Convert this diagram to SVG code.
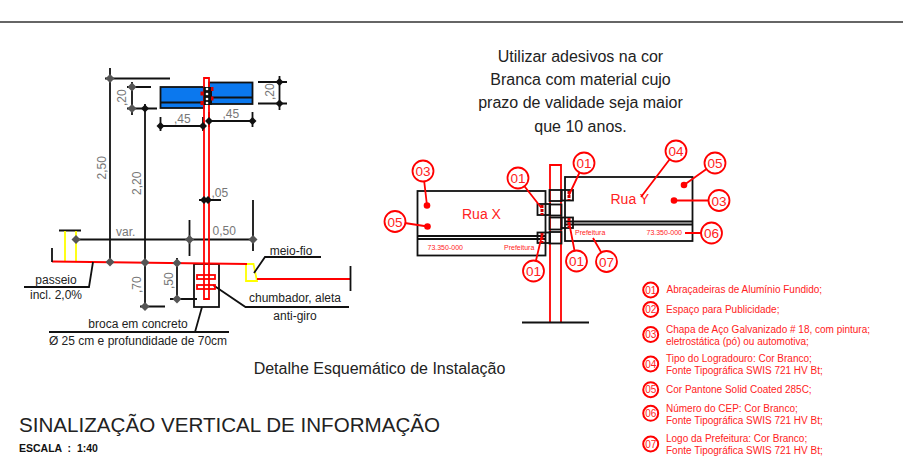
<svg xmlns="http://www.w3.org/2000/svg" width="903" height="459" viewBox="0 0 903 459">
<style>
text{font-family:"Liberation Sans",Arial,sans-serif}
.k{fill:none;stroke:#111;stroke-width:1.8}
.r{fill:none;stroke:#f00;stroke-width:1.8}
.y{fill:none;stroke:#ff0;stroke-width:1.800}
.d{fill:#777;font-size:12px}
.t{fill:#222;font-size:12px;text-anchor:middle}
.m{fill:#222;font-size:16px;text-anchor:middle}
.rt{fill:#f22;font-size:10px}
.s{fill:#f22;font-size:7px}
.nb circle{fill:#fff;stroke:#f00;stroke-width:1.8}
.nb text{fill:#f22;font-size:13.500px;text-anchor:middle}
.lg circle{fill:#fff;stroke:#f00;stroke-width:2}
.lg text.n{fill:#f22;font-size:10px;text-anchor:middle}
</style>
<defs>
<path id="dk" d="M-4 0L0-4L4 0L0 4Z" fill="#111"/>
<path id="dg" d="M-4.500 0L0-4.500L4.500 0L0 4.500Z" fill="#555"/>
</defs>
<rect width="903" height="459" fill="#fff"/>
<path d="M0 22H903" stroke="#333" stroke-width="1.500"/>

<g id="elevacao">
<rect x="160.500" y="87" width="43.500" height="21" fill="#0b78ee" stroke="#111" stroke-width="1.800"/>
<rect x="209" y="82.500" width="43.500" height="21.500" fill="#0b78ee" stroke="#111" stroke-width="1.800"/>
<path class="k" d="M160.500 102.500H204M209 97.500H252.500"/>
<path d="M110 68V262M105 78.500H170M132 82V115M127 87H151M127 108.500H157M145 104V307M140 306.500H165M177 258V299M170 299H197" class="k"/>
<path d="M160.500 117V131M160.500 126H203M203 117V131M209 121H252.500M252.500 112V127M209 112V127M258 82H287M258 103.500H287M279.500 76V110M199 200H221M253 200V251M189.500 220V256M75 239.500H253M59 230.500H81" class="k"/>
<path class="y" d="M65 231V261M76 231V261M246 264H253.500L257 281H246Z"/>
<rect x="194" y="264" width="25" height="43" class="k"/>
<path class="r" d="M204 78H209V299H204Z"/>
<path d="M52 261.500L247 264" stroke="#f00" stroke-width="1.800"/>
<path d="M257 279H350" stroke="#f00" stroke-width="1.800"/>
<path class="k" d="M52 248V262M350.500 266V291M93 262L89 287H24M254 273L265 257H321M202 307L195 332H229M49 332H195M213 285L245.500 307H349"/>
<rect x="197" y="275" width="18" height="4" class="r"/>
<rect x="197" y="285" width="18" height="4" class="r"/>
<rect x="203.500" y="87" width="8.500" height="18" fill="#111"/>
<g fill="#fff"><circle cx="207" cy="89" r="1.300"/><circle cx="207" cy="94" r="1.300"/><circle cx="207" cy="99" r="1.300"/><circle cx="207" cy="103" r="1.300"/></g>
<g fill="#d00"><rect x="200.500" y="91.500" width="3" height="4"/><rect x="200.500" y="101" width="3" height="4"/><rect x="211" y="87" width="2.500" height="4"/><rect x="211" y="96.500" width="2.500" height="4"/></g>
<use href="#dg" x="110" y="78.500"/><use href="#dg" x="132" y="87"/><use href="#dg" x="132" y="108.500"/><use href="#dk" x="145" y="108.500"/>
<use href="#dk" x="160.500" y="126"/><use href="#dk" x="203" y="126"/><use href="#dk" x="209" y="121"/><use href="#dk" x="252.500" y="121"/>
<use href="#dk" x="279.500" y="82"/><use href="#dk" x="279.500" y="103.500"/><use href="#dk" x="204" y="200"/><use href="#dk" x="208" y="200"/>
<use href="#dg" x="76" y="239.500"/><use href="#dg" x="189.500" y="239.500"/><use href="#dg" x="253" y="239.500"/>
<use href="#dg" x="110" y="262"/><use href="#dg" x="145" y="262.500"/><use href="#dg" x="177" y="263"/><use href="#dg" x="145" y="306.500"/><use href="#dg" x="177" y="299"/>
<text class="d" transform="translate(106 179.500) rotate(-90)">2,50</text>
<text class="d" transform="translate(141 195) rotate(-90)">2,20</text>
<text class="d" transform="translate(126 106) rotate(-90)">,20</text>
<text class="d" transform="translate(274 100) rotate(-90)">,20</text>
<text class="d" transform="translate(141 293) rotate(-90)">,70</text>
<text class="d" transform="translate(173 289) rotate(-90)">,50</text>
<text class="d" x="174" y="123">,45</text>
<text class="d" x="222.500" y="118">,45</text>
<text class="d" x="211.500" y="197">,05</text>
<text class="d" x="116" y="236">var.</text>
<text class="d" x="212.500" y="235">0,50</text>
<text class="t" x="56" y="284">passeio</text>
<text class="t" x="56" y="299">incl. 2,0%</text>
<text class="t" x="291" y="255">meio-fio</text>
<text class="t" x="295" y="302">chumbador, aleta</text>
<text class="t" x="295" y="320">anti-giro</text>
<text class="t" x="138" y="328">broca em concreto</text>
<text class="t" x="138" y="345">Ø 25 cm e profundidade de 70cm</text>
</g>

<g id="nota">
<text class="m" x="580.500" y="62">Utilizar adesivos na cor</text>
<text class="m" x="580.500" y="85">Branca com material cujo</text>
<text class="m" x="580.500" y="108">prazo de validade seja maior</text>
<text class="m" x="580.500" y="132">que 10 anos.</text>
</g>

<g id="poste">
<path d="M550 322V165H561V322" class="r"/>
<path d="M522 322.500H589" stroke="#111" stroke-width="1.800"/>
</g>
<g id="placa-x">
<rect x="417.500" y="191" width="128" height="64.500" class="k" style="fill:#fff"/>
<path class="k" d="M417.500 236H545.500M417.500 239H545.500"/>
<text x="462" y="219" fill="#f22" font-size="14">Rua X</text>
<text class="s" x="427.500" y="250">73.350-000</text>
<text class="s" x="504" y="250">Prefeitura</text>
</g>
<g id="placa-y">
<rect x="565" y="177" width="127.500" height="64" class="k" style="fill:#fff"/>
<path class="k" d="M565 221.500H692.500M565 224.500H692.500"/>
<text x="610.500" y="204" fill="#f22" font-size="14">Rua Y</text>
<text class="s" x="646.500" y="235">73.350-000</text>
<text class="s" x="575" y="235">Prefeitura</text>
</g>
<g id="abracadeiras">
<g class="k"><rect x="549.500" y="190" width="12" height="11"/><rect x="549.500" y="204.500" width="12" height="11"/><rect x="549.500" y="217.500" width="12" height="12"/><rect x="549.500" y="232" width="12" height="11.500"/>
<rect x="537.500" y="204" width="12.500" height="11"/><rect x="537.500" y="232.500" width="12.500" height="10.500"/><rect x="561.500" y="190" width="11.500" height="10.500"/><rect x="561.500" y="217.500" width="11.500" height="10.500"/></g>
<path d="M542 205V215M542 233V243M569 191V200M569 218V228" stroke="#c00" stroke-width="3" stroke-dasharray="3 1"/>
</g>

<g id="chamadas" class="nb">
<path class="r" d="M423 171L427 205.500M395 221.500L427.500 226.500M518 178L541.500 208M533.500 271L542 235M584 163L569 195M676 151L641 197M715 163L684 185M719 200.500H674M711.500 233H685M606.500 261.500L593 238M576.500 261L569 222"/>
<g><circle cx="427" cy="205.500" r="3.300" style="fill:#f00;stroke:none"/><circle cx="427.500" cy="226.500" r="3.300" style="fill:#f00;stroke:none"/><circle cx="684" cy="185" r="3.300" style="fill:#f00;stroke:none"/><circle cx="674" cy="200.500" r="3.300" style="fill:#f00;stroke:none"/></g>
<g id="c03a"><circle cx="423" cy="171" r="10.500"/><text x="423" y="176">03</text></g>
<g id="c05a"><circle cx="395" cy="221.500" r="10.500"/><text x="395" y="226.500">05</text></g>
<g id="c01a"><circle cx="518" cy="178" r="10.500"/><text x="518" y="183">01</text></g>
<g id="c01b"><circle cx="533.500" cy="271" r="10.500"/><text x="533.500" y="276">01</text></g>
<g id="c01c"><circle cx="584" cy="163" r="10.500"/><text x="584" y="168">01</text></g>
<g id="c04"><circle cx="676" cy="151" r="10.500"/><text x="676" y="156">04</text></g>
<g id="c05b"><circle cx="715" cy="163" r="10.500"/><text x="715" y="168">05</text></g>
<g id="c03b"><circle cx="719" cy="200.500" r="10.500"/><text x="719" y="205.500">03</text></g>
<g id="c06"><circle cx="711.500" cy="233" r="10.500"/><text x="711.500" y="238">06</text></g>
<g id="c07"><circle cx="606.500" cy="261.500" r="10.500"/><text x="606.500" y="266.500">07</text></g>
<g id="c01d"><circle cx="576.500" cy="261" r="10.500"/><text x="576.500" y="266">01</text></g>
</g>

<g id="legenda" class="lg">
<circle cx="650.700" cy="290" r="7.500"/><text class="n" x="650.700" y="293.500">01</text>
<circle cx="650.700" cy="309.500" r="7.500"/><text class="n" x="650.700" y="313">02</text>
<circle cx="650.700" cy="334.500" r="7.500"/><text class="n" x="650.700" y="338">03</text>
<circle cx="650.700" cy="364" r="7.500"/><text class="n" x="650.700" y="367.500">04</text>
<circle cx="650.700" cy="389.700" r="7.500"/><text class="n" x="650.700" y="393.200">05</text>
<circle cx="650.700" cy="413.300" r="7.500"/><text class="n" x="650.700" y="416.800">06</text>
<circle cx="650.700" cy="444" r="7.500"/><text class="n" x="650.700" y="447.500">07</text>
<text class="rt" x="666.500" y="292.700">Abraçadeiras de Alumínio Fundido;</text>
<text class="rt" x="666" y="312.700">Espaço para Publicidade;</text>
<text class="rt" x="666" y="332.700">Chapa de Aço Galvanizado # 18, com pintura;</text>
<text class="rt" x="666" y="344.500">eletrostática (pó) ou automotiva;</text>
<text class="rt" x="666" y="361.500">Tipo do Logradouro: Cor Branco;</text>
<text class="rt" x="666" y="374.300">Fonte Tipográfica SWIS 721 HV Bt;</text>
<text class="rt" x="666" y="392.700">Cor Pantone Solid Coated 285C;</text>
<text class="rt" x="666" y="411.700">Número do CEP: Cor Branco;</text>
<text class="rt" x="666" y="423.500">Fonte Tipográfica SWIS 721 HV Bt;</text>
<text class="rt" x="666" y="441.700">Logo da Prefeitura: Cor Branco;</text>
<text class="rt" x="666" y="454">Fonte Tipográfica SWIS 721 HV Bt;</text>
</g>

<g id="titulos">
<text class="m" x="379.500" y="374">Detalhe Esquemático de Instalação</text>
<text x="19" y="431.700" fill="#222" font-size="20.600">SINALIZAÇÃO VERTICAL DE INFORMAÇÃO</text>
<text x="19" y="452" fill="#111" font-size="10.500" font-weight="bold" xml:space="preserve">ESCALA  :  1:40</text>
</g>
</svg>
